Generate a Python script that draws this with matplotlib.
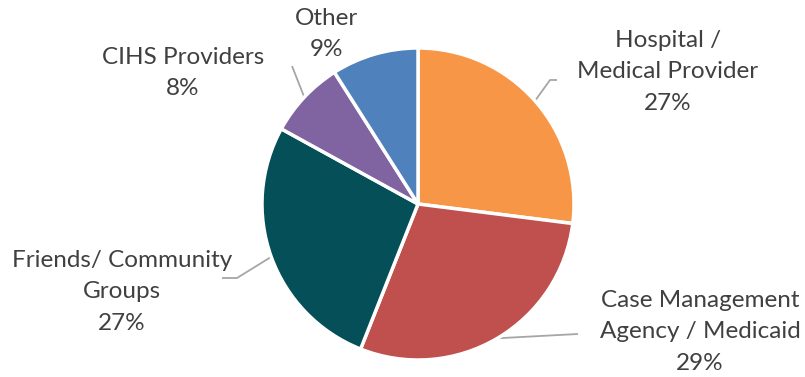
import numpy as np
import matplotlib.pyplot as plt

categories = ["Hospital /\nMedical Provider", "Case Management\nAgency / Medicaid",
              "Friends/ Community\nGroups", "CIHS Providers", "Other"]
shares = [27, 29, 27, 8, 9]
colors = ["#F79646", "#C0504D", "#054F59", "#8064A2", "#4F81BD"]

W, H = 805, 377
fig = plt.figure(figsize=(W / 100, H / 100), dpi=100)
ax = fig.add_axes([0, 0, 1, 1])

cx, cy, r = 418, H - 204, 156
wedges, _ = ax.pie(shares, colors=colors, startangle=90, counterclock=False,
                   center=(cx, cy), radius=r, frame=True,
                   wedgeprops=dict(edgecolor="white", linewidth=2.5))
ax.set_xlim(0, W)
ax.set_ylim(0, H)
ax.set_aspect("equal")
ax.axis("off")

# label placement (pixel coords from top-left) and leader-line elbows
label_pos = [(668, 72), (700, 332), (122, 292), (183, 73), (326, 34)]
elbows = [[(550, 80), (557, 80)], [(578, 334)], [(237, 278), (222, 278)],
          [(292, 66)], None]

text_color = "#404040"
line_color = "#A6A6A6"
for w, name, pct, (lx, ly), elb in zip(wedges, categories, shares, label_pos, elbows):
    ang = np.deg2rad((w.theta1 + w.theta2) / 2)
    if elb is not None:
        xs = [cx + r * np.cos(ang)] + [p[0] for p in elb]
        ys = [cy + r * np.sin(ang)] + [H - p[1] for p in elb]
        ax.plot(xs, ys, color=line_color, lw=1.3, solid_capstyle="butt", zorder=0.5)
    ax.text(lx, H - ly, f"{name}\n{pct}%", ha="center", va="center",
            fontsize=17.5, family="Lato", color=text_color, linespacing=1.63)

fig.savefig("out.png", dpi=100)
